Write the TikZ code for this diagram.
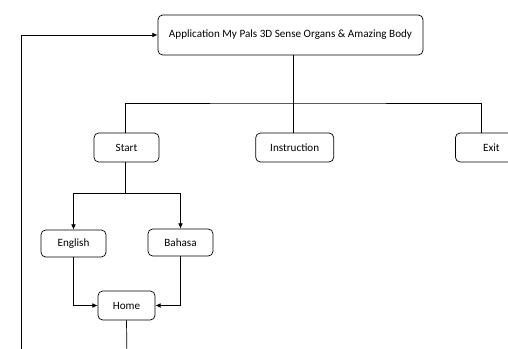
\documentclass[tikz,border=0pt]{standalone}
\usepackage{fontspec}
\setmainfont{Carlito}
\usetikzlibrary{arrows.meta,positioning}

\begin{document}
\begin{tikzpicture}[
    x=0.03cm, y=-0.03cm,
    every node/.style={font=\fontsize{9.5}{11}\selectfont},
    box/.style={draw, line width=0.6pt, rounded corners=4pt, minimum height=0.87cm, align=center},
    link/.style={line width=0.6pt},
    arr/.style={line width=0.6pt, -{Latex[length=1.6mm, width=1.4mm]}}
]
\useasboundingbox (0,0) rectangle (508,349);

\node[box, minimum width=7.95cm, minimum height=1.2cm] (app) at (290.5,35) {Application My Pals 3D Sense Organs \& Amazing Body};
\node[box, minimum width=1.95cm] (start) at (126.5,147.5) {Start};
\node[box, minimum width=2.34cm, right=2.88cm of start] (instr) {Instruction};
\node[box, minimum width=2.16cm, right=3.63cm of instr] (exit) {Exit};
\node[box, minimum width=1.95cm, minimum height=0.81cm] (eng) at (73.5,243.5) {English};
\node[box, minimum width=1.95cm, minimum height=0.81cm] (bhs) at (180.5,242.5) {Bahasa};
\node[box, minimum width=1.71cm] (home) at (126.5,305.5) {Home};

\coordinate (bar) at (293,103);
\coordinate (split) at (125,193);
\coordinate (bottom) at (127,360);
\coordinate (back) at (21,360);

% top level
\draw[link] (app.south -| bar) -- (bar);
\draw[link] (start.north -| split) |- (bar) -| (481,133);
\draw[link] (bar) -- (instr.north -| bar);

% language choice
\draw[link] (start.south -| split) -- (split);
\draw[arr] (split) -| (eng.north);
\draw[arr] (split) -| (bhs.north);
\draw[arr] (eng.south) |- (home.west);
\draw[arr] (bhs.south) |- (home.east);

% back to the top
\draw[link] (home.south) -- (bottom);
\draw[arr] (back) |- (app.west);
\end{tikzpicture}
\end{document}
